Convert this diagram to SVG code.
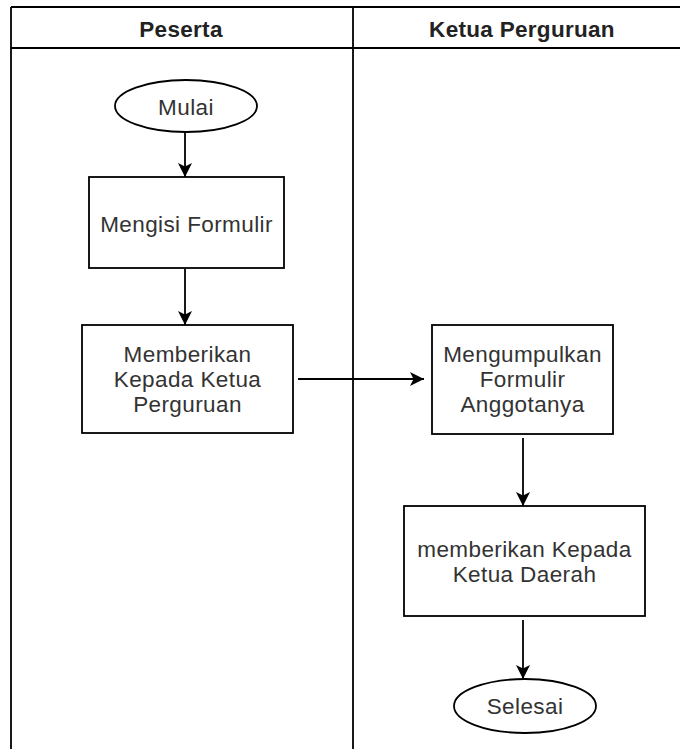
<svg xmlns="http://www.w3.org/2000/svg" width="680" height="749" viewBox="0 0 680 749">
<style>
.frame{fill:none;stroke:#000;stroke-width:1.8}
.shape{fill:#fff;stroke:#000;stroke-width:1.8}
.edge{fill:none;stroke:#000;stroke-width:1.8}
.hdr{font-family:"Liberation Sans",Arial,sans-serif;font-size:22.5px;font-weight:bold;fill:#222;text-anchor:middle;letter-spacing:0.3px}
.lbl{font-family:"Liberation Sans",Arial,sans-serif;font-size:22.5px;fill:#333;text-anchor:middle;letter-spacing:0.4px}
</style>
<defs>
<marker id="arr" markerUnits="userSpaceOnUse" markerWidth="15" markerHeight="15" refX="14" refY="7" orient="auto">
<path d="M0,0 L14,7 L0,14 L3.5,7 Z" fill="#000"/>
</marker>
</defs>
<rect width="680" height="749" fill="#fff"/>
<g id="pool">
<line class="frame" x1="11" y1="7" x2="680" y2="7"/>
<line class="frame" x1="11" y1="48" x2="680" y2="48"/>
<line class="frame" x1="11" y1="7" x2="11" y2="749"/>
<line class="frame" x1="353" y1="7" x2="353" y2="749"/>
<text class="hdr" x="181" y="37">Peserta</text>
<text class="hdr" x="522" y="37">Ketua Perguruan</text>
</g>
<g id="connectors">
<line class="edge" x1="185" y1="133" x2="185" y2="177" marker-end="url(#arr)"/>
<line class="edge" x1="185" y1="269" x2="185" y2="325" marker-end="url(#arr)"/>
<line class="edge" x1="298" y1="379" x2="424" y2="379" marker-end="url(#arr)"/>
<line class="edge" x1="523" y1="438" x2="523" y2="506" marker-end="url(#arr)"/>
<line class="edge" x1="523" y1="620" x2="523" y2="679" marker-end="url(#arr)"/>
</g>
<g id="mulai">
<ellipse class="shape" cx="186" cy="106" rx="71" ry="26"/>
<text class="lbl" x="186" y="115">Mulai</text>
</g>
<g id="mengisi">
<rect class="shape" x="89" y="177" width="195" height="91"/>
<text class="lbl" x="186.5" y="232">Mengisi Formulir</text>
</g>
<g id="memberikan">
<rect class="shape" x="82" y="325" width="211" height="108"/>
<text class="lbl" x="187.5" y="362">Memberikan</text>
<text class="lbl" x="187.5" y="387">Kepada Ketua</text>
<text class="lbl" x="187.5" y="412">Perguruan</text>
</g>
<g id="mengumpulkan">
<rect class="shape" x="432" y="325" width="181" height="109"/>
<text class="lbl" x="522.5" y="362">Mengumpulkan</text>
<text class="lbl" x="522.5" y="387">Formulir</text>
<text class="lbl" x="522.5" y="412">Anggotanya</text>
</g>
<g id="memberikan-daerah">
<rect class="shape" x="404" y="506" width="241" height="110"/>
<text class="lbl" x="524.5" y="557">memberikan Kepada</text>
<text class="lbl" x="524.5" y="582">Ketua Daerah</text>
</g>
<g id="selesai">
<ellipse class="shape" cx="525" cy="706" rx="71" ry="27"/>
<text class="lbl" x="525" y="714">Selesai</text>
</g>
</svg>
